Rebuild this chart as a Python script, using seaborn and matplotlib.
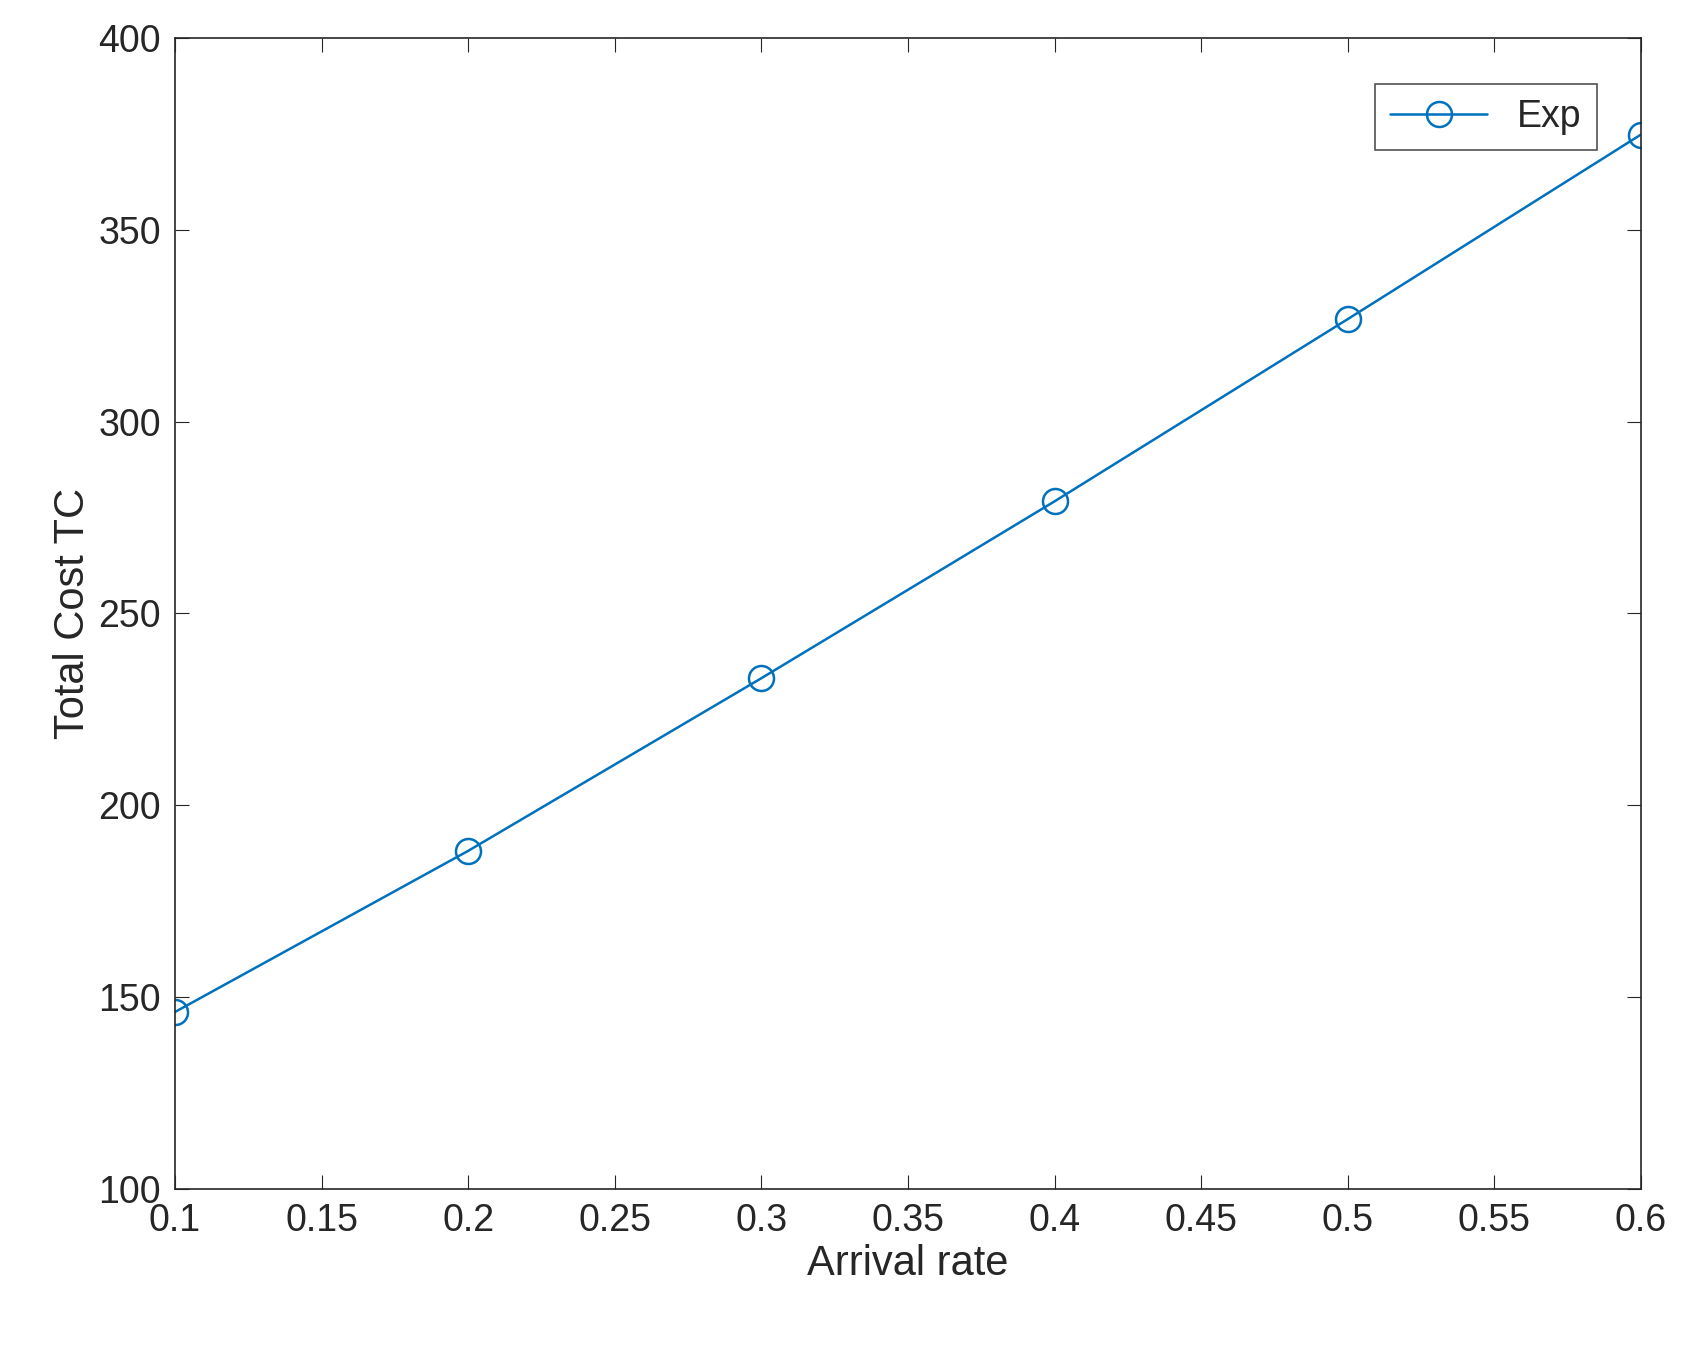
import seaborn as sns
import matplotlib.pyplot as plt

arrival_rate = [0.1, 0.2, 0.3, 0.4, 0.5, 0.6]
total_cost = [146.1, 188.1, 233.1, 279.2, 326.7, 374.8]
x_ticks = [0.1, 0.15, 0.2, 0.25, 0.3, 0.35, 0.4, 0.45, 0.5, 0.55, 0.6]
x_tick_labels = ["0.1", "0.15", "0.2", "0.25", "0.3", "0.35", "0.4", "0.45", "0.5", "0.55", "0.6"]
y_ticks = [100, 150, 200, 250, 300, 350, 400]

sns.set_style("ticks")
plt.rcParams['font.family'] = ['Liberation Sans', 'DejaVu Sans']

fig = plt.figure(figsize=(16.83, 13.54), dpi=100)
ax = fig.add_axes([0.104, 0.122, 0.871, 0.85])

sns.lineplot(x=arrival_rate, y=total_cost, ax=ax, color="#0072BD", linewidth=1.8,
             marker="o", markersize=18, markerfacecolor="none", markeredgecolor="#0072BD",
             markeredgewidth=1.8, label="Exp")

ax.set_xlim(0.1, 0.6)
ax.set_ylim(100, 400)
ax.set_xticks(x_ticks)
ax.set_xticklabels(x_tick_labels)
ax.set_yticks(y_ticks)
ax.tick_params(axis='both', labelsize=27, colors="#262626", direction='in', length=10,
               top=True, right=True, pad=10)
for s in ax.spines.values():
    s.set_color("#262626")
    s.set_linewidth(1.2)
ax.set_xlabel("Arrival rate", fontsize=30, color="#262626")
ax.set_ylabel("Total Cost TC", fontsize=30, color="#262626")

leg = ax.legend(loc="upper right", fontsize=27, frameon=True, fancybox=False,
                handlelength=2.6, bbox_to_anchor=(0.97, 0.96), borderaxespad=0)
leg.get_frame().set_edgecolor("#262626")
leg.get_frame().set_linewidth(1.2)

plt.savefig("out.png", dpi=100)
